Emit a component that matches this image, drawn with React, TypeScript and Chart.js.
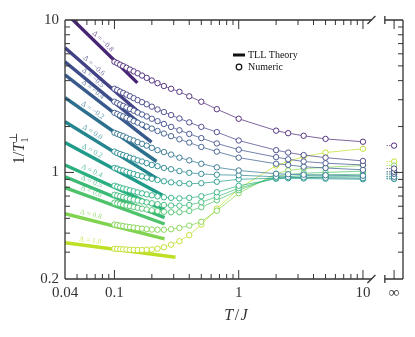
import React, { useEffect, useRef } from "react";
import { Chart, registerables } from "chart.js";

Chart.register(...registerables);

// ---------------- data ----------------
const DELTAS = ["−0.8", "−0.6", "−0.5", "−0.4", "−0.2", "0.0", "0.2", "0.4", "0.5", "0.6", "0.8", "1.0"];
const COLORS = ["#482475", "#424186", "#3d4d8a", "#38598c", "#2d708e", "#25858e", "#1f9b8a", "#2ab07f", "#3aba76", "#4ec36b", "#7fd34e", "#bddf26"];

// temperatures of the numeric points (T/J)
const T_NUM = [0.1, 0.1053, 0.1111, 0.1176, 0.125, 0.1333, 0.1429, 0.1538, 0.1667, 0.1818, 0.2, 0.2222, 0.25, 0.2857, 0.3333, 0.4, 0.5, 0.6667, 1, 2, 2.5, 3.333, 5, 10];

const NUM_DM08 = [5.32, 5.21, 5.09, 4.98, 4.86, 4.73, 4.60, 4.47, 4.32, 4.17, 4.01, 3.85, 3.69, 3.54, 3.38, 3.16, 2.91, 2.60, 2.25, 1.88, 1.81, 1.74, 1.66, 1.59];
const NUM_DM06 = [3.54, 3.47, 3.39, 3.32, 3.24, 3.16, 3.07, 2.98, 2.89, 2.80, 2.70, 2.59, 2.49, 2.38, 2.26, 2.13, 1.99, 1.84, 1.62, 1.40, 1.35, 1.30, 1.25, 1.19];
const NUM_DM05 = [2.91, 2.85, 2.79, 2.73, 2.67, 2.61, 2.54, 2.47, 2.40, 2.33, 2.25, 2.17, 2.08, 1.99, 1.89, 1.79, 1.68, 1.55, 1.41, 1.26, 1.22, 1.18, 1.15, 1.12];
const NUM_DM04 = [2.46, 2.42, 2.37, 2.33, 2.28, 2.23, 2.17, 2.12, 2.06, 2.00, 1.94, 1.87, 1.80, 1.73, 1.65, 1.57, 1.47, 1.37, 1.25, 1.14, 1.12, 1.09, 1.07, 1.04];
const NUM_DM02 = [1.82, 1.79, 1.76, 1.73, 1.69, 1.65, 1.62, 1.58, 1.54, 1.50, 1.45, 1.40, 1.36, 1.31, 1.25, 1.20, 1.14, 1.08, 1.03, 0.98, 0.973, 0.966, 0.959, 0.951];
const NUM_D00 = [1.37, 1.34, 1.32, 1.30, 1.28, 1.25, 1.23, 1.20, 1.18, 1.15, 1.12, 1.10, 1.07, 1.05, 1.02, 0.995, 0.978, 0.966, 0.959, 0.937, 0.933, 0.929, 0.923, 0.916];
const NUM_D02 = [1.07, 1.06, 1.04, 1.03, 1.01, 0.994, 0.978, 0.960, 0.943, 0.926, 0.909, 0.892, 0.876, 0.861, 0.850, 0.843, 0.850, 0.869, 0.902, 0.916, 0.916, 0.912, 0.909, 0.902];
const NUM_D04 = [0.818, 0.807, 0.796, 0.785, 0.775, 0.763, 0.752, 0.740, 0.729, 0.718, 0.708, 0.697, 0.688, 0.681, 0.676, 0.681, 0.698, 0.742, 0.818, 0.909, 0.923, 0.930, 0.937, 0.937];
const NUM_D05 = [0.714, 0.706, 0.697, 0.689, 0.681, 0.672, 0.663, 0.654, 0.645, 0.636, 0.628, 0.620, 0.612, 0.607, 0.605, 0.612, 0.638, 0.693, 0.788, 0.923, 0.940, 0.954, 0.966, 0.973];
const NUM_D06 = [0.633, 0.626, 0.620, 0.613, 0.607, 0.600, 0.593, 0.586, 0.579, 0.572, 0.565, 0.558, 0.552, 0.548, 0.548, 0.559, 0.591, 0.657, 0.764, 0.944, 0.969, 0.988, 1.00, 1.02];
const NUM_D08 = [0.455, 0.452, 0.448, 0.445, 0.441, 0.438, 0.435, 0.431, 0.428, 0.425, 0.422, 0.421, 0.421, 0.424, 0.433, 0.448, 0.475, 0.561, 0.731, 0.981, 1.03, 1.06, 1.08, 1.11];
const NUM_D10 = [0.316, 0.315, 0.314, 0.313, 0.312, 0.311, 0.311, 0.310, 0.310, 0.311, 0.312, 0.316, 0.323, 0.336, 0.354, 0.388, 0.455, 0.578, 0.782, 1.11, 1.18, 1.27, 1.35, 1.43];
const NUMERIC = [NUM_DM08, NUM_DM06, NUM_DM05, NUM_DM04, NUM_DM02, NUM_D00, NUM_D02, NUM_D04, NUM_D05, NUM_D06, NUM_D08, NUM_D10];

// infinite-temperature values
const NUM_INF = [1.50, 1.06, 1.01, 0.98, 0.937, 0.909, 0.909, 0.937, 0.966, 1.01, 1.11, 1.18];

// TLL theory line end points
const TLL_T0 = [0.04, 0.04, 0.04, 0.04, 0.04, 0.04, 0.04, 0.04, 0.04, 0.04, 0.04, 0.04];
const TLL_Y0 = [11.25, 6.57, 5.32, 4.37, 3.09, 2.15, 1.57, 1.12, 0.937, 0.794, 0.536, 0.346];
const TLL_T1 = [0.153, 0.168, 0.181, 0.199, 0.218, 0.231, 0.244, 0.253, 0.253, 0.253, 0.253, 0.31];
const TLL_Y1 = [3.87, 2.37, 1.93, 1.58, 1.18, 0.89, 0.709, 0.566, 0.505, 0.459, 0.367, 0.278];
const LABEL_T = [0.075, 0.064, 0.063, 0.063, 0.063, 0.063, 0.063, 0.063, 0.063, 0.063, 0.063, 0.063];

// axes
const X_MIN = 0.04;
const X_MAX = 21;
const X_INF = 17.8;
const X_STUB = 15.5;
const X_BREAK_L = 11.7;
const X_BREAK_R = 15.0;
const Y_MIN = 0.2;
const Y_MAX = 10;
const X_TICKS = [0.04, 0.1, 1, 10];
const X_TICK_LABELS = ["0.04", "0.1", "1", "10"];
const X_MAJOR = [0.1, 1, 10, X_INF];
const X_MINOR = [0.05, 0.06, 0.07, 0.08, 0.09, 0.2, 0.3, 0.4, 0.5, 0.6, 0.7, 0.8, 0.9, 2, 3, 4, 5, 6, 7, 8, 9];
const Y_TICKS = [0.2, 1, 10];
const Y_TICK_LABELS = ["0.2", "1", "10"];
const Y_MAJOR = [1];
const Y_MINOR = [0.3, 0.4, 0.5, 0.6, 0.7, 0.8, 0.9, 2, 3, 4, 5, 6, 7, 8, 9];

const SERIF = "'Liberation Serif', 'DejaVu Serif', serif";
const AXIS_COLOR = "#333";

function rgba(hex: string, a: number) {
  const n = parseInt(hex.slice(1), 16);
  return `rgba(${(n >> 16) & 255},${(n >> 8) & 255},${n & 255},${a})`;
}

const decorPlugin = {
  id: "decor",
  afterDatasetsDraw(chart: any) {
    const { ctx, chartArea: a, scales } = chart;
    const x = scales.x;
    const y = scales.y;
    const xl = a.left, xr = a.right, yt = a.top, yb = a.bottom;
    const bl = x.getPixelForValue(X_BREAK_L);
    const br = x.getPixelForValue(X_BREAK_R);
    ctx.save();

    // theory labels
    ctx.font = `7.5px ${SERIF}`;
    ctx.textAlign = "center";
    ctx.textBaseline = "middle";
    for (let i = 0; i < DELTAS.length; i++) {
      const x0 = x.getPixelForValue(TLL_T0[i]);
      const y0 = y.getPixelForValue(TLL_Y0[i]);
      const x1 = x.getPixelForValue(TLL_T1[i]);
      const y1 = y.getPixelForValue(TLL_Y1[i]);
      const px = x.getPixelForValue(LABEL_T[i]);
      const f = (px - x0) / (x1 - x0);
      const py = y0 + f * (y1 - y0);
      const dx = x1 - x0, dy = y1 - y0;
      const len = Math.hypot(dx, dy);
      const nx = dy / len, ny = -dx / len;
      const off = 5.5;
      ctx.save();
      ctx.translate(px + nx * off, py + ny * off);
      ctx.rotate(Math.atan2(dy, dx));
      ctx.fillStyle = rgba(COLORS[i], 0.75);
      ctx.fillText(`Δ = ${DELTAS[i]}`, 0, 0);
      ctx.restore();
    }

    // frame
    ctx.strokeStyle = AXIS_COLOR;
    ctx.lineWidth = 1.3;
    ctx.lineCap = "butt";
    ctx.beginPath();
    ctx.moveTo(xl, yt); ctx.lineTo(xl, yb);
    ctx.moveTo(xr, yt); ctx.lineTo(xr, yb);
    for (const yy of [yt, yb]) {
      ctx.moveTo(xl, yy); ctx.lineTo(bl, yy);
      ctx.moveTo(br, yy); ctx.lineTo(xr, yy);
    }
    ctx.stroke();
    ctx.beginPath();
    for (const yy of [yt, yb]) {
      ctx.moveTo(bl - 4, yy + 4); ctx.lineTo(bl + 4, yy - 4);
      ctx.moveTo(br, yy + 4); ctx.lineTo(br, yy - 4);
    }
    ctx.stroke();

    // ticks
    ctx.lineWidth = 1;
    ctx.beginPath();
    const xt = (v: number, L: number) => {
      const p = x.getPixelForValue(v);
      ctx.moveTo(p, yb); ctx.lineTo(p, yb - L);
      ctx.moveTo(p, yt); ctx.lineTo(p, yt + L);
    };
    X_MAJOR.forEach((v) => xt(v, 9));
    X_MINOR.forEach((v) => xt(v, 5));
    const ytk = (v: number, L: number) => {
      const p = y.getPixelForValue(v);
      ctx.moveTo(xl, p); ctx.lineTo(xl + L, p);
      ctx.moveTo(xr, p); ctx.lineTo(xr - L, p);
    };
    Y_MAJOR.forEach((v) => ytk(v, 9));
    Y_MINOR.forEach((v) => ytk(v, 5));
    ctx.stroke();

    // tick labels
    ctx.fillStyle = "#333";
    ctx.font = `15px ${SERIF}`;
    ctx.textAlign = "center";
    ctx.textBaseline = "middle";
    X_TICKS.forEach((v, i) => ctx.fillText(X_TICK_LABELS[i], x.getPixelForValue(v), yb + 14));
    ctx.fillText("∞", x.getPixelForValue(X_INF), yb + 14);
    ctx.textAlign = "right";
    Y_TICKS.forEach((v, i) => ctx.fillText(Y_TICK_LABELS[i], xl - 6, y.getPixelForValue(v)));

    // x title T/J
    const cx = (xl + xr) / 2 + 2;
    const ty = yb + 37;
    ctx.textAlign = "left";
    ctx.font = `italic 16px ${SERIF}`;
    const wT = ctx.measureText("T").width;
    const wJ = ctx.measureText("J").width;
    ctx.font = `16px ${SERIF}`;
    const wS = ctx.measureText("/").width;
    const total = wT + wS + wJ + 3;
    let sx = cx - total / 2;
    ctx.font = `italic 16px ${SERIF}`;
    ctx.fillText("T", sx, ty); sx += wT + 1.5;
    ctx.font = `16px ${SERIF}`;
    ctx.fillText("/", sx, ty); sx += wS + 1.5;
    ctx.font = `italic 16px ${SERIF}`;
    ctx.fillText("J", sx, ty);

    // y title 1/T1^perp
    ctx.save();
    ctx.translate(20, 150);
    ctx.rotate(-Math.PI / 2);
    ctx.font = `16px ${SERIF}`;
    const w1 = ctx.measureText("1/").width;
    ctx.font = `italic 16px ${SERIF}`;
    const wT2 = ctx.measureText("T").width;
    const tot = w1 + wT2 + 7;
    let qx = -tot / 2;
    ctx.font = `16px ${SERIF}`;
    ctx.fillText("1/", qx, 0); qx += w1;
    ctx.font = `italic 16px ${SERIF}`;
    ctx.fillText("T", qx, 0); qx += wT2;
    ctx.font = `11px ${SERIF}`;
    ctx.fillText("1", qx, 5);
    ctx.fillText("⊥", qx, -6);
    ctx.restore();

    // legend
    ctx.strokeStyle = "#111";
    ctx.lineWidth = 3;
    ctx.beginPath();
    ctx.moveTo(233, 55); ctx.lineTo(245, 55);
    ctx.stroke();
    ctx.lineWidth = 1.2;
    ctx.beginPath();
    ctx.arc(239, 67, 2.8, 0, Math.PI * 2);
    ctx.stroke();
    ctx.fillStyle = "#111";
    ctx.font = `10px ${SERIF}`;
    ctx.textAlign = "left";
    ctx.textBaseline = "middle";
    ctx.fillText("TLL Theory", 248, 55.5);
    ctx.fillText("Numeric", 248, 67.5);

    ctx.restore();
  },
};

export default function App() {
  const ref = useRef<HTMLCanvasElement>(null);
  useEffect(() => {
    if (!ref.current) return;
    const datasets: any[] = [];
    DELTAS.forEach((d, i) => {
      datasets.push({
        label: `TLL ${d}`,
        data: [
          { x: TLL_T0[i], y: TLL_Y0[i] },
          { x: TLL_T1[i], y: TLL_Y1[i] },
        ],
        borderColor: COLORS[i],
        borderWidth: 3.4,
        borderCapStyle: "butt",
        pointRadius: 0,
        order: 3,
      });
    });
    DELTAS.forEach((d, i) => {
      datasets.push({
        label: `Numeric ${d}`,
        data: T_NUM.map((t, j) => ({ x: t, y: NUMERIC[i][j] })),
        borderColor: rgba(COLORS[i], 0.7),
        borderWidth: 1,
        pointRadius: 2.7,
        pointBorderWidth: 1,
        pointBackgroundColor: "#ffffff",
        pointBorderColor: rgba(COLORS[i], 0.9),
        order: 1,
      });
      datasets.push({
        label: `Numeric ${d} ∞`,
        data: [
          { x: X_STUB, y: NUM_INF[i] },
          { x: X_INF, y: NUM_INF[i] },
        ],
        borderColor: rgba(COLORS[i], 0.85),
        borderWidth: 1,
        borderDash: [1.2, 1.4],
        pointRadius: [0, 2.7],
        pointBorderWidth: 1,
        pointBackgroundColor: "#ffffff",
        pointBorderColor: rgba(COLORS[i], 0.95),
        order: 2,
      });
    });

    const chart = new Chart(ref.current, {
      type: "line",
      data: { datasets },
      options: {
        responsive: false,
        animation: false,
        devicePixelRatio: 1,
        layout: { padding: { left: 65, right: 12, top: 20, bottom: 58 } },
        elements: { line: { tension: 0 } },
        plugins: { legend: { display: false }, tooltip: { enabled: false } },
        scales: {
          x: { type: "logarithmic", min: X_MIN, max: X_MAX, display: false },
          y: { type: "logarithmic", min: Y_MIN, max: Y_MAX, display: false },
        },
      },
      plugins: [decorPlugin],
    });
    return () => chart.destroy();
  }, []);

  return (
    <div style={{ position: "absolute", left: 0, top: 0, width: 415, height: 337, background: "#fff" }}>
      <canvas ref={ref} width={415} height={337} />
    </div>
  );
}
